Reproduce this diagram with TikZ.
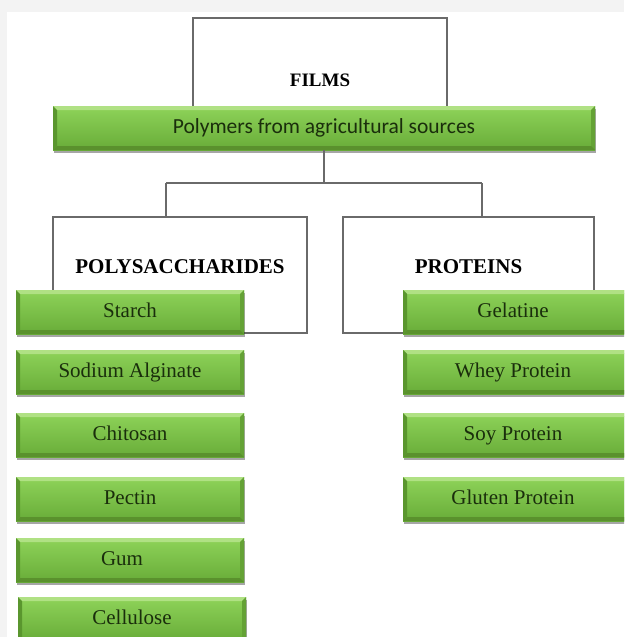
\documentclass[tikz,border=0pt]{standalone}
\usepackage{fontspec}
\setmainfont{Liberation Serif}
\newfontfamily\carlito{Carlito}
\usetikzlibrary{shadows}
\definecolor{bgrey}{HTML}{F3F3F3}
\definecolor{lnc}{HTML}{6A6A6A}
\definecolor{txt}{HTML}{1A2E0C}
\definecolor{gtop}{HTML}{8ED359}
\definecolor{gbot}{HTML}{68AC38}
\definecolor{gbevT}{HTML}{B0E184}
\definecolor{gbevL}{HTML}{5A962E}
\definecolor{gbevR}{HTML}{64A235}
\definecolor{gbevB}{HTML}{5A912D}
\tikzset{
  gbar/.style={rectangle, inner sep=0pt, top color=gtop, bottom color=gbot,
    text=txt, font=\fontsize{21}{24}\selectfont, text height=14.5pt, text depth=4.5pt,
    drop shadow={shadow xshift=1pt, shadow yshift=-2.5pt, opacity=0.35, fill=black},
    path picture={
      \fill[gbevT] (path picture bounding box.north west) -- (path picture bounding box.north east)
        -- ([shift={(-4pt,-4pt)}]path picture bounding box.north east)
        -- ([shift={(4pt,-4pt)}]path picture bounding box.north west) -- cycle;
      \fill[gbevL] (path picture bounding box.north west) -- ([shift={(4pt,-4pt)}]path picture bounding box.north west)
        -- ([shift={(4pt,4pt)}]path picture bounding box.south west)
        -- (path picture bounding box.south west) -- cycle;
      \fill[gbevR] (path picture bounding box.north east) -- ([shift={(-4pt,-4pt)}]path picture bounding box.north east)
        -- ([shift={(-4pt,4pt)}]path picture bounding box.south east)
        -- (path picture bounding box.south east) -- cycle;
      \fill[gbevB] (path picture bounding box.south west) -- ([shift={(4pt,4pt)}]path picture bounding box.south west)
        -- ([shift={(-4pt,4pt)}]path picture bounding box.south east)
        -- (path picture bounding box.south east) -- cycle;
    }},
  lbar/.style={gbar, minimum width=228pt, minimum height=44pt},
  rbar/.style={gbar, minimum width=228pt, minimum height=44pt},
  hbox/.style={rectangle, draw=lnc, line width=1.3pt, fill=white, inner sep=0pt},
  conn/.style={draw=lnc, line width=1.3pt},
  head/.style={text=black, font=\bfseries\fontsize{21}{24}\selectfont, inner sep=0pt},
}
\begin{document}
\begin{tikzpicture}[x=1pt, y=-1pt]
  \useasboundingbox (0,0) rectangle (624,637);
  \clip (0,0) rectangle (624,637);
  \fill[bgrey] (0,0) rectangle (624,637);
  \fill[white] (7,12) rectangle (624,637);

  % header boxes
  \node[hbox, minimum width=254pt, minimum height=130pt] (films) at (320,83) {};
  \node[head, font=\bfseries\fontsize{19}{22}\selectfont] (filmst) at (320,80) {FILMS};
  \node[hbox, minimum width=254pt, minimum height=116pt] (poly) at (180,275) {};
  \node[head] (polyt) at (180,267) {POLYSACCHARIDES};
  \node[hbox, minimum width=251pt, minimum height=116pt] (prot) at (468.5,275) {};
  \node[head] (prott) at (468.5,267) {PROTEINS};

  % main bar
  \node[gbar, minimum width=542pt, minimum height=44pt,
        font=\carlito\fontsize{21.5}{24}\selectfont] (agri) at (324,128) {Polymers from agricultural sources};

  % connectors
  \coordinate (j) at (324,183);
  \coordinate (jl) at (166,183);
  \coordinate (jr) at (482,183);
  \draw[conn] (agri.south) -- (j);
  \draw[conn] (jl) -- (jr);
  \draw[conn] (jl) -- (jl |- poly.north);
  \draw[conn] (jr) -- (jr |- prot.north);

  % polysaccharides
  \node[lbar] (starch) at (130,312) {Starch};
  \node[lbar] (sodium) at (130,372) {Sodium Alginate};
  \node[lbar] (chitosan) at (130,435) {Chitosan};
  \node[lbar] (pectin) at (130,499) {Pectin};
  \node[lbar, text width=212pt, align=center] (gum) at (130,560) {\hspace*{-16pt}Gum};
  \node[lbar] (cellulose) at (132,619) {Cellulose};

  % proteins (bars run past the right edge)
  \node[rbar] (gelatine) at (517,312) {\hspace*{-8pt}Gelatine};
  \node[rbar] (whey) at (517,372) {\hspace*{-8pt}Whey Protein};
  \node[rbar] (soy) at (517,435) {\hspace*{-8pt}Soy Protein};
  \node[rbar] (gluten) at (517,499) {\hspace*{-8pt}Gluten Protein};
\end{tikzpicture}
\end{document}
